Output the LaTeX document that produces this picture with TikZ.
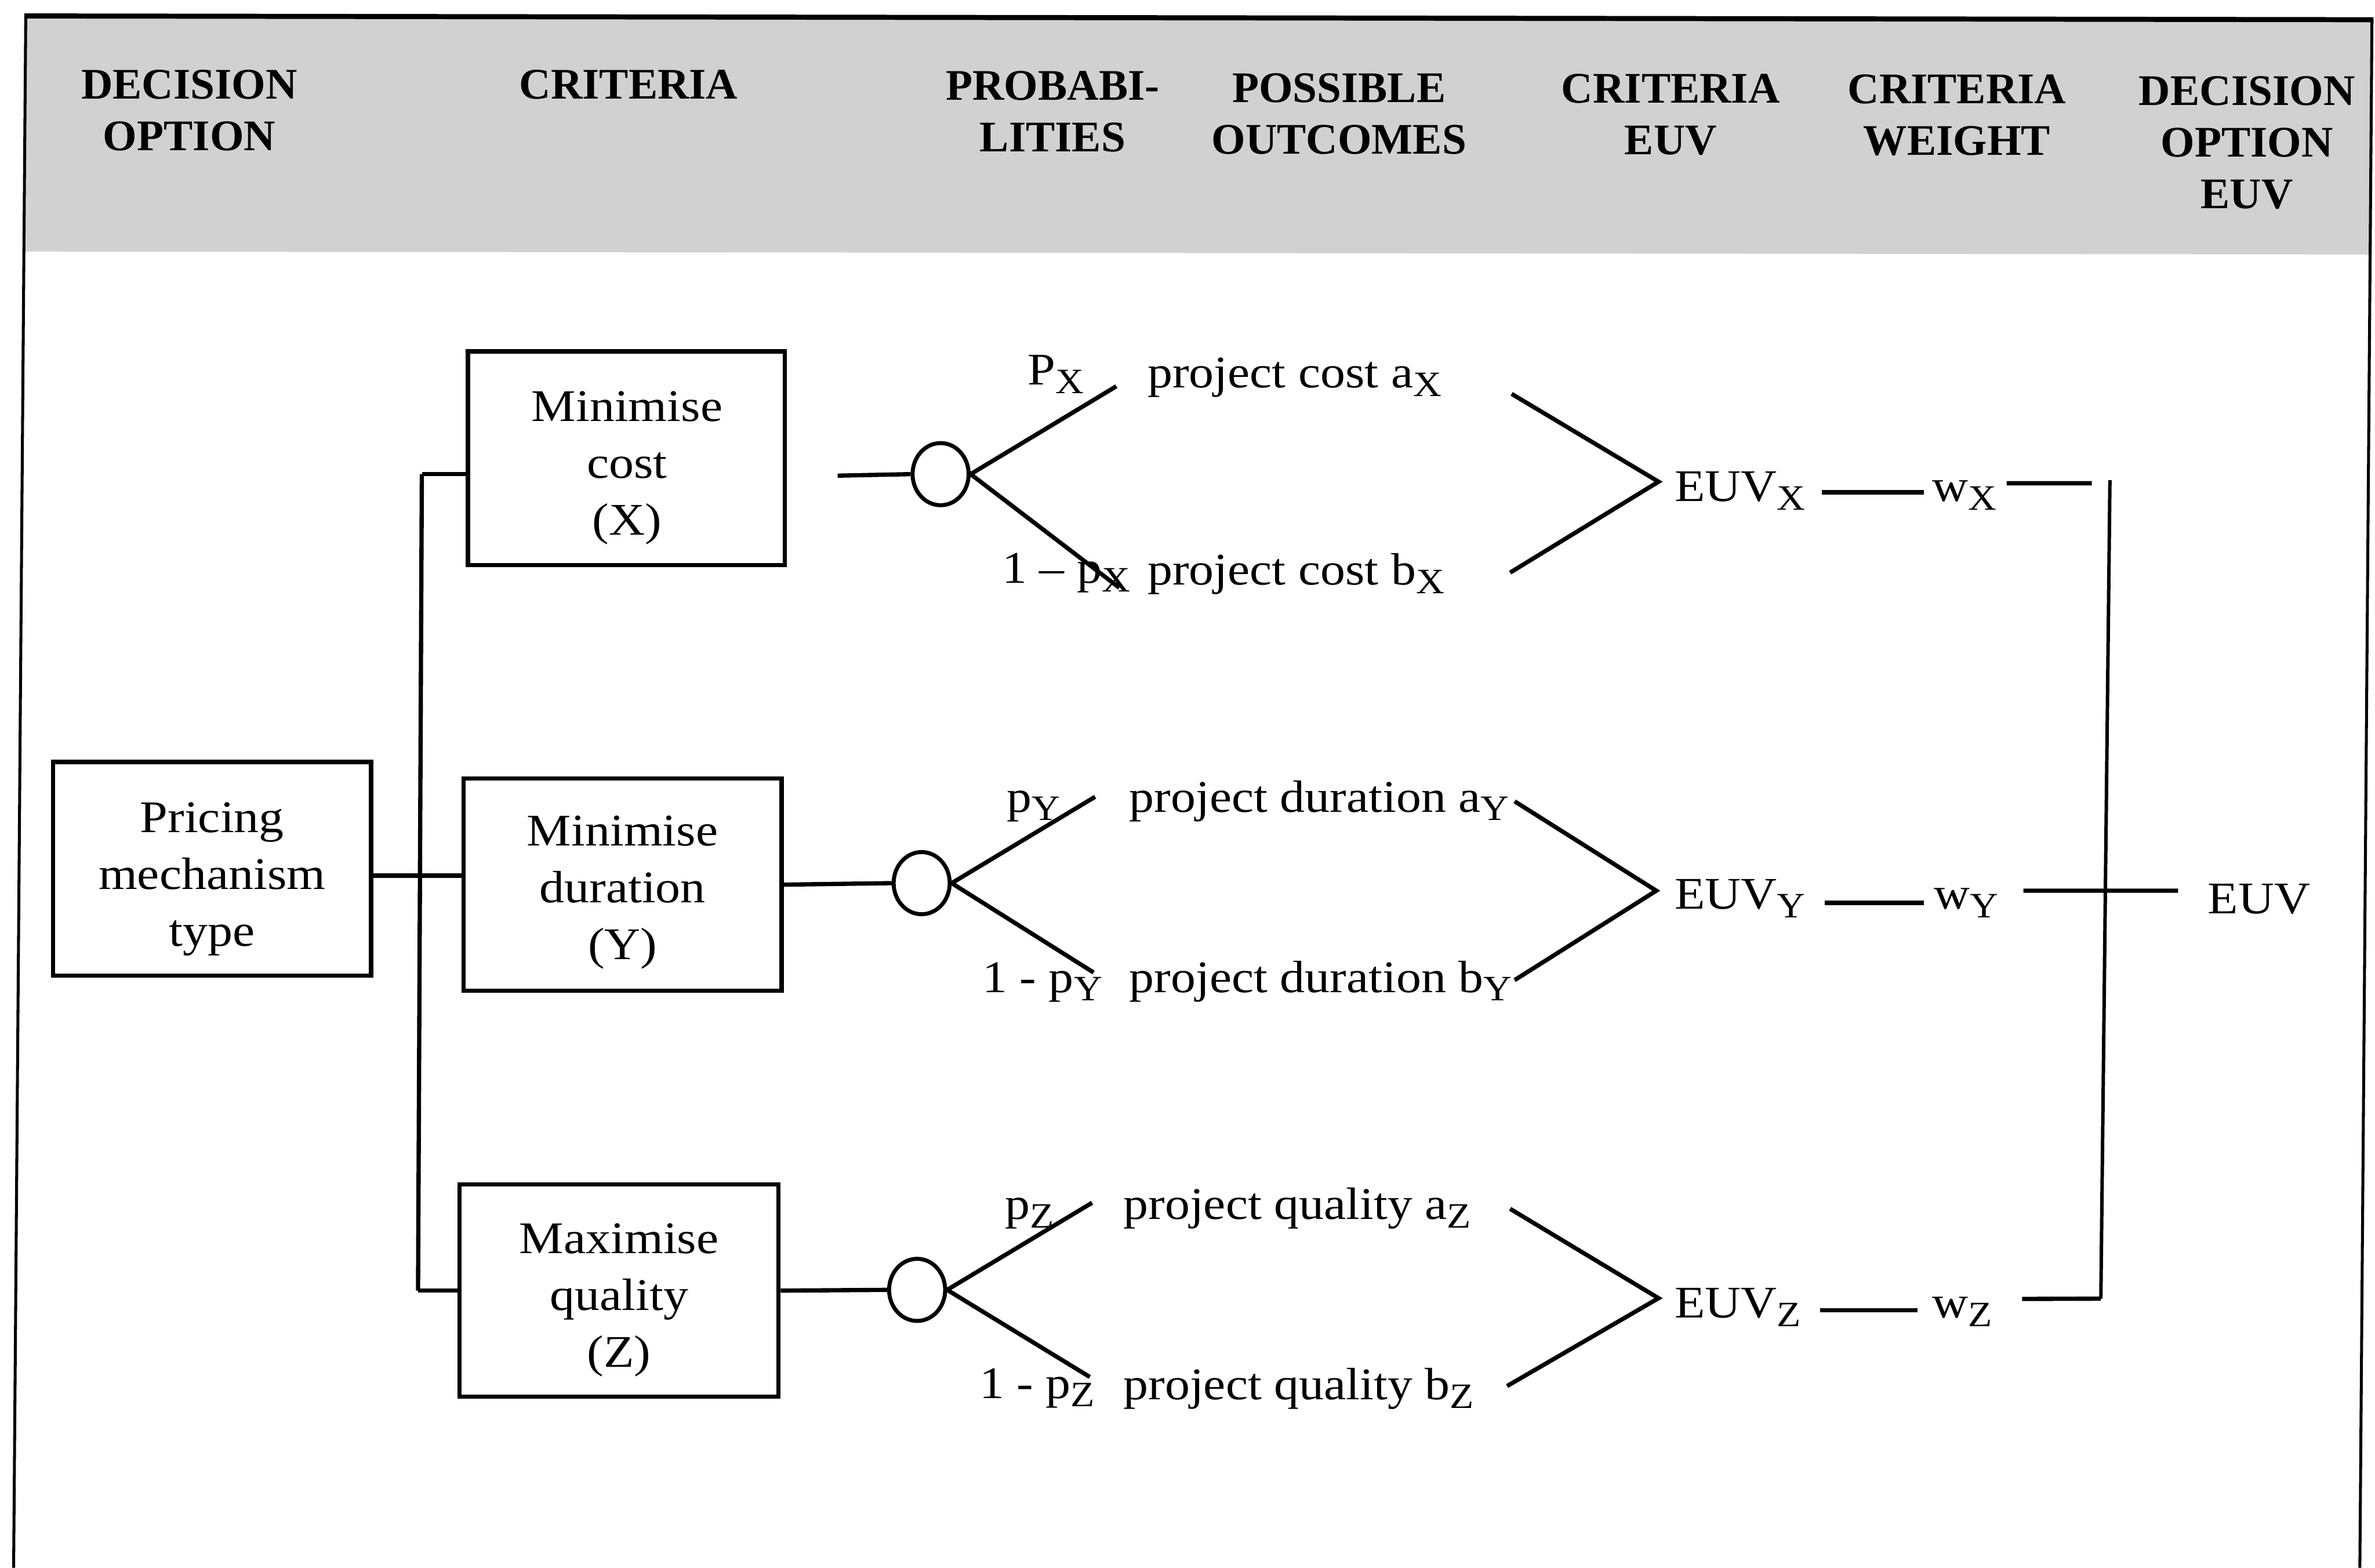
\documentclass[tikz,border=0pt]{standalone}
\usepackage{fontspec}
\setmainfont{Liberation Serif}[FakeStretch=1.1]
\newfontfamily\headfont{Liberation Serif}
\usetikzlibrary{shapes.geometric}
% lowered subscript letter used in the labels
\newcommand\lowsub[1]{\raisebox{-1.6pt}{\fontsize{6.7}{7}\selectfont #1}}
% centred stack of lines whose baseline is the last line
\newcommand\stackc[1]{\begin{tabular}[b]{@{}c@{}}#1\end{tabular}}

\begin{document}
\begin{tikzpicture}[x=0.01cm, y=-0.01cm,
  ln/.style={line width=0.8pt},
  frameln/.style={line width=0.55pt},
  critbox/.style={draw, line width=0.8pt, inner sep=0pt},
  boxtext/.style={anchor=base, inner sep=0pt, font=\fontsize{8.5}{10.67}\selectfont},
  chance/.style={ellipse, draw, line width=0.75pt, inner sep=0pt,
                 minimum width=0.37cm, minimum height=0.41cm},
  lbl/.style={anchor=base west, inner sep=0pt, font=\fontsize{8.5}{10.2}\selectfont},
  hd/.style={anchor=base, inner sep=0pt, font=\headfont\bfseries\fontsize{8.2}{9.67}\selectfont},
]
\useasboundingbox (0,0) rectangle (1568,1035);
\fill[white] (0,0) rectangle (1568,1035);

% header band and frame
\fill[black!18] (17,11) -- (1566,13) -- (1566,168) -- (17,166) -- cycle;
\draw[line width=0.95pt] (16,10.5) -- (1567,13);
\draw[frameln] (17,10.5) -- (9,1035);
\draw[frameln] (1566,13) -- (1558,1035);

% column headings
\node[hd] (hDecision) at (125,99.3)   {\stackc{DECISION\\OPTION}};
\node[hd] (hCriteria) at (415,65.2)   {\stackc{CRITERIA}};
\node[hd] (hProb)     at (695,100)    {\stackc{PROBABI-\\LITIES}};
\node[hd] (hOutcome)  at (884,101.7)  {\stackc{POSSIBLE\\OUTCOMES}};
\node[hd] (hCritEuv)  at (1103,102)   {\stackc{CRITERIA\\EUV}};
\node[hd] (hWeight)   at (1292,102.5) {\stackc{CRITERIA\\WEIGHT}};
\node[hd] (hOptEuv)   at (1483.5,137.5) {\stackc{DECISION\\OPTION\\EUV}};

% decision option and criteria boxes
\node[critbox, minimum width=2.10cm, minimum height=1.41cm] (pm) at (140,573.5) {};
\node[boxtext] (pmText) at (140,624.5) {\stackc{Pricing\\mechanism\\type}};
\node[critbox, minimum width=2.09cm, minimum height=1.41cm] (cX) at (413.5,302.5) {};
\node[boxtext] (cXText) at (414,353) {\stackc{Minimise\\cost\\(X)}};
\node[critbox, minimum width=2.10cm, minimum height=1.40cm] (cY) at (411,584) {};
\node[boxtext] (cYText) at (411,633.5) {\stackc{Minimise\\duration\\(Y)}};
\node[critbox, minimum width=2.105cm, minimum height=1.40cm] (cZ) at (408.7,852) {};
\node[boxtext] (cZText) at (408.7,902.6) {\stackc{Maximise\\quality\\(Z)}};

% chance nodes
\node[chance] (chX) at (621,313) {};
\node[chance] (chY) at (608.5,583) {};
\node[chance] (chZ) at (605.5,851.5) {};

% bus from the decision option to the criteria
\coordinate (busTop) at (278.5,313);
\coordinate (busMid) at (277.4,578);
\coordinate (busBot) at (276,852);
\draw[ln] (busTop) -- (busBot);
\draw[ln] (busTop) -- (cX.west |- busTop);
\draw[ln] (busBot) -- (cZ.west |- busBot);
\draw[ln] (pm.east |- busMid) -- (cY.west |- busMid);

% criteria to chance nodes
\coordinate (stubX) at (553,314);
\draw[ln] (stubX) -- (chX.west);
\draw[ln] (cY.east) -- (chY.west);
\draw[ln] (cZ.east) -- (chZ.west);

% probability labels and outcomes
\node[lbl] (pX)  at (678,254) {P\lowsub{X}};
\node[lbl] (qX)  at (661,385) {1 -- p\lowsub{X}};
\node[lbl] (oaX) at (757,256) {project cost a\lowsub{X}};
\node[lbl] (obX) at (757,386) {project cost b\lowsub{X}};
\node[lbl] (pY)  at (664,536) {p\lowsub{Y}};
\node[lbl] (qY)  at (648,655) {1 - p\lowsub{Y}};
\node[lbl] (oaY) at (745,536) {project duration a\lowsub{Y}};
\node[lbl] (obY) at (745,655) {project duration b\lowsub{Y}};
\node[lbl] (pZ)  at (663,805) {p\lowsub{Z}};
\node[lbl] (qZ)  at (646,923) {1 - p\lowsub{Z}};
\node[lbl] (oaZ) at (741,805) {project quality a\lowsub{Z}};
\node[lbl] (obZ) at (741,924) {project quality b\lowsub{Z}};

% branches out of the chance nodes
\coordinate (brXa) at (737,255);   \coordinate (brXb) at (739,388);
\coordinate (brYa) at (723,526);   \coordinate (brYb) at (722,642);
\coordinate (brZa) at (721,794);   \coordinate (brZb) at (719.5,909);
\draw[ln] (brXa) -- (chX.east) -- (brXb);
\draw[ln] (brYa) -- (chY.east) -- (brYb);
\draw[ln] (brZa) -- (chZ.east) -- (brZb);

% criteria expected utility values
\node[lbl] (euvX) at (1105,331) {EUV\lowsub{X}};
\node[lbl] (euvY) at (1105,600) {EUV\lowsub{Y}};
\node[lbl] (euvZ) at (1105,870) {EUV\lowsub{Z}};

% outcomes converging on each criteria EUV
\coordinate (cvXa) at (998,260);   \coordinate (cvXb) at (997,378);
\coordinate (cvYa) at (1000,529);  \coordinate (cvYb) at (1000,647);
\coordinate (cvZa) at (997,798);   \coordinate (cvZb) at (995,915);
\draw[ln] (cvXa) -- ([xshift=-0.1cm,yshift=0.13cm]euvX.base west) -- (cvXb);
\draw[ln] (cvYa) -- ([xshift=-0.115cm,yshift=0.12cm]euvY.base west) -- (cvYb);
\draw[ln] (cvZa) -- ([xshift=-0.1cm,yshift=0.13cm]euvZ.base west) -- (cvZb);

% criteria weights
\node[lbl] (wX) at (1275,331) {w\lowsub{X}};
\node[lbl] (wY) at (1276,600) {w\lowsub{Y}};
\node[lbl] (wZ) at (1275,870) {w\lowsub{Z}};
\draw[ln] ([xshift=0.1cm,yshift=0.06cm]euvX.base east) -- ([xshift=-0.05cm,yshift=0.06cm]wX.base west);
\draw[ln] ([xshift=0.12cm,yshift=0.04cm]euvY.base east) -- ([xshift=-0.06cm,yshift=0.04cm]wY.base west);
\draw[ln] ([xshift=0.12cm,yshift=0.05cm]euvZ.base east) -- ([xshift=-0.09cm,yshift=0.05cm]wZ.base west);

% decision option EUV
\node[lbl] (euvTot) at (1457,603) {EUV};

% collector of the weighted values
\coordinate (colTop) at (1393,317);
\coordinate (colBot) at (1387,857.3);
\coordinate (wXend) at (1381,319);
\draw[line width=0.65pt] (colTop) -- (colBot);
\draw[ln] ([xshift=0.06cm,yshift=0.12cm]wX.base east) -- (wXend);
\draw[ln] ([xshift=0.16cm,yshift=0.12cm]wY.base east) -- ([xshift=-0.19cm,yshift=0.15cm]euvTot.base west);
\draw[ln] ([xshift=0.19cm,yshift=0.125cm]wZ.base east) -- (colBot);
\end{tikzpicture}
\end{document}
